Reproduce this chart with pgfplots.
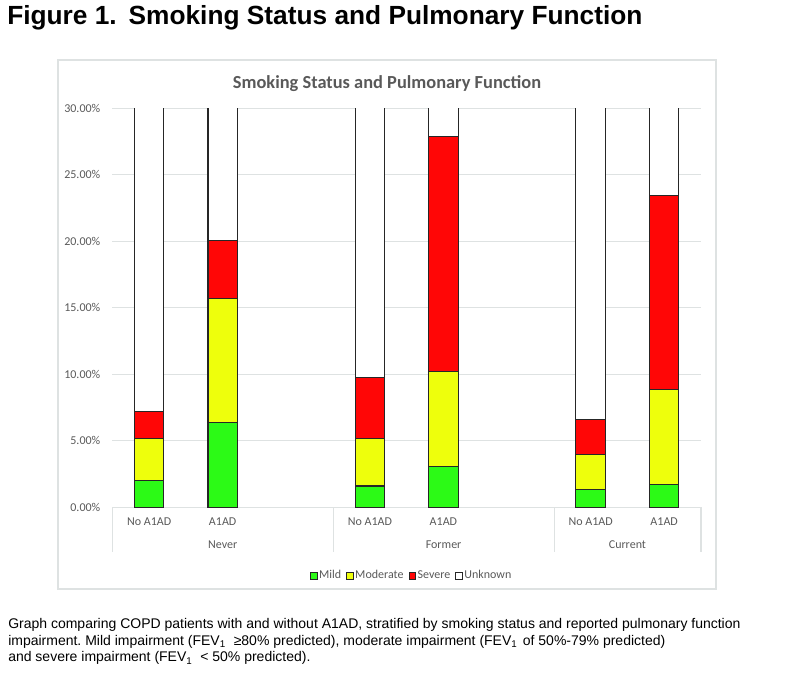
\documentclass[border=0pt]{standalone}
\usepackage{pgfplots}
\pgfplotsset{compat=1.18}
\usepackage{fontspec}
\setmainfont{Liberation Sans}
\newfontfamily\carlito{Carlito}
\definecolor{txtgray}{RGB}{89,89,89}
\definecolor{gridc}{RGB}{222,226,226}
\definecolor{boxc}{RGB}{222,226,226}
\definecolor{mildc}{RGB}{44,250,22}
\definecolor{modc}{RGB}{238,255,12}
\definecolor{sevc}{RGB}{255,6,6}
\frenchspacing
\begin{document}
\begin{tikzpicture}[x=0.75pt,y=0.75pt]
\path (0,0) rectangle (800,675);
\coordinate (axorig) at (112.3,167.7);
% figure title
\node[anchor=base west, inner sep=0pt, font=\bfseries\fontsize{19.7}{24}\selectfont] at (7,650) {Figure 1.\hspace{9pt}Smoking Status and Pulmonary Function};
% chart box
\draw[boxc, line width=0.9pt] (58,86) rectangle (716,615);
% chart title
\node[font=\carlito\bfseries\fontsize{13.8}{16}\selectfont, text=txtgray] at (387,591.5) {Smoking Status and Pulmonary Function};
\begin{axis}[
  at={(axorig)}, anchor=south west,
  width=441.5pt, height=299.25pt, scale only axis,
  xmin=-0.5, xmax=7.5, ymin=0, ymax=30,
  ybar stacked, bar width=0.4,
  axis x line*=bottom, axis y line*=left,
  y axis line style={draw=none},
  x axis line style={draw=gridc, line width=0.9pt, -},
  major tick length=0pt,
  ytick={0,5,10,15,20,25,30},
  ymajorgrids, grid style={draw=gridc, line width=0.9pt},
  yticklabel={\pgfmathprintnumber[fixed,fixed zerofill,precision=2,assume math mode=true]{\tick}\%},
  yticklabel style={font=\carlito\fontsize{9}{10}\selectfont, text=txtgray, xshift=-5.5pt},
  xtick={0,1,3,4,6,7},
  xticklabels={No A1AD,A1AD,No A1AD,A1AD,No A1AD,A1AD},
  xticklabel style={font=\carlito\fontsize{9}{10}\selectfont, text=txtgray, anchor=base, yshift=-13.8pt},
  clip=true,
  every axis plot/.append style={draw=black!85, line width=0.85pt},
  legend image code/.code={\draw[#1, line width=0.6pt] (0pt,-2.6pt) rectangle (5.2pt,2.6pt);},
  legend style={at={(0.508,-0.172)}, anchor=center, draw=none, fill=none,
    legend columns=4, font=\carlito\fontsize{9}{10}\selectfont, text=txtgray,
    nodes={inner xsep=1pt, inner ysep=0.5pt, text height=6.4pt, text depth=1.9pt},
    /tikz/every even column/.append style={column sep=2.75pt}},
]
\addplot[fill=mildc] coordinates {(0,2.01) (1,6.40) (3,1.60) (4,3.06) (6,1.33) (7,1.71)};
\addplot[fill=modc] coordinates {(0,3.14) (1,9.29) (3,3.60) (4,7.13) (6,2.64) (7,7.13)};
\addplot[fill=sevc] coordinates {(0,2.08) (1,4.34) (3,4.54) (4,17.70) (6,2.61) (7,14.58)};
\addplot[fill=white] coordinates {(0,92.77) (1,79.97) (3,90.26) (4,72.11) (6,93.42) (7,76.58)};
\legend{Mild,Moderate,Severe,Unknown}
\end{axis}
\begin{scope}[shift={(112.3,167.7)}]
\foreach \xx in {0,221.0,441.9,588.7} {\draw[gridc, line width=0.9pt] (\xx,0) -- (\xx,-44.7);}
\foreach \xx/\lab in {110.4/Never,331.3/Former,515.1/Current} {\node[anchor=base, inner sep=0pt, font=\carlito\fontsize{9}{10}\selectfont, text=txtgray] at (\xx,-41.4) {\lab};}
\end{scope}
% caption
\node[anchor=base west, inner sep=0pt, align=left, font=\fontsize{10.5}{12.5}\selectfont] at (8,13) {Graph comparing COPD patients with and without A1AD, stratified by smoking status and reported pulmonary function\\impairment. Mild impairment (FEV\textsubscript{1}\ \ ≥80\% predicted), moderate impairment (FEV\textsubscript{1}\hspace{4pt}of 50\%-79\% predicted)\\and severe impairment (FEV\textsubscript{1}\ \ < 50\% predicted).};
\end{tikzpicture}
\end{document}
